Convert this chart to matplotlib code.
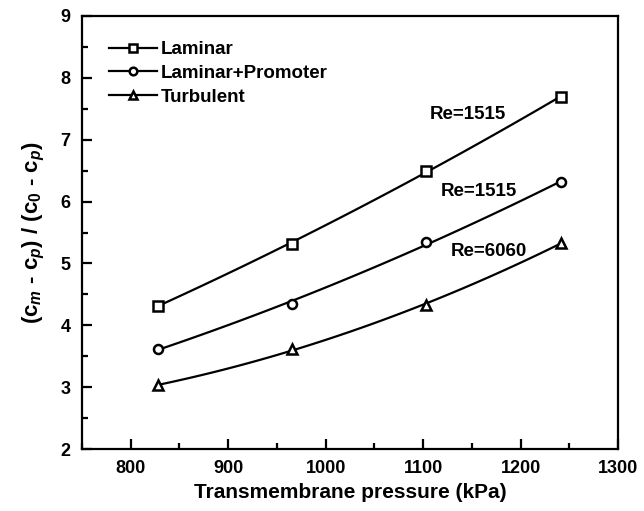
import numpy as np
import matplotlib.pyplot as plt
from matplotlib.ticker import MultipleLocator

plt.rcParams['font.family'] = ['Liberation Sans', 'DejaVu Sans']
plt.rcParams['font.weight'] = 'bold'
plt.rcParams['mathtext.fontset'] = 'custom'
plt.rcParams['mathtext.rm'] = 'Liberation Sans:bold'
plt.rcParams['mathtext.it'] = 'Liberation Sans:bold:italic'
plt.rcParams['mathtext.bf'] = 'Liberation Sans:bold'

# datos
pressure = [828, 966, 1103, 1241]
laminar = [4.32, 5.32, 6.50, 7.69]
promoter = [3.62, 4.35, 5.35, 6.31]
turbulent = [3.03, 3.62, 4.33, 5.33]

series = [("Laminar", laminar, 's'),
          ("Laminar+Promoter", promoter, 'o'),
          ("Turbulent", turbulent, '^')]

fig = plt.figure(figsize=(6.44, 5.11), dpi=100)
ax = fig.add_axes([0.127, 0.121, 0.833, 0.848])

xs = np.linspace(pressure[0], pressure[-1], 100)
for name, ys, mk in series:
    # curva suave de segundo grado a traves de los puntos
    c = np.polyfit(pressure, ys, 2)
    ax.plot(xs, np.polyval(c, xs), color='black', lw=1.6)
    ax.plot(pressure, ys, linestyle='none', marker=mk, ms=6.5,
            mfc='white', mec='black', mew=1.8)
    ax.plot([], [], color='black', lw=1.6, marker=mk, ms=5.5,
            mfc='white', mec='black', mew=1.8, label=name)

ax.text(1107, 7.40, "Re=1515", fontsize=13.5, fontweight='bold', va='center')
ax.text(1118, 6.17, "Re=1515", fontsize=13.5, fontweight='bold', va='center')
ax.text(1128, 5.20, "Re=6060", fontsize=13.5, fontweight='bold', va='center')

ax.set_xlim(750, 1300)
ax.set_ylim(2, 9)
ax.xaxis.set_major_locator(MultipleLocator(100))
ax.xaxis.set_minor_locator(MultipleLocator(50))
ax.yaxis.set_major_locator(MultipleLocator(1))
ax.yaxis.set_minor_locator(MultipleLocator(0.5))
ax.tick_params(which='both', direction='in', width=1.6, labelsize=13)
ax.tick_params(which='major', length=7, pad=8)
ax.tick_params(which='minor', length=4)
for s in ax.spines.values():
    s.set_linewidth(1.6)

ax.set_xlabel("Transmembrane pressure (kPa)", fontsize=15, fontweight='bold', labelpad=4)
ax.set_ylabel(r"(c$_{m}$ - c$_{p}$) / (c$_{\mathit{0}}$ - c$_{p}$)",
              fontsize=16, fontweight='bold', labelpad=10)

leg = ax.legend(loc='upper left', frameon=False, fontsize=13.5, handlelength=2.6,
                handletextpad=0.2, labelspacing=0.35, borderaxespad=0.6,
                bbox_to_anchor=(0.015, 0.985))

plt.savefig("out.png", dpi=100)
